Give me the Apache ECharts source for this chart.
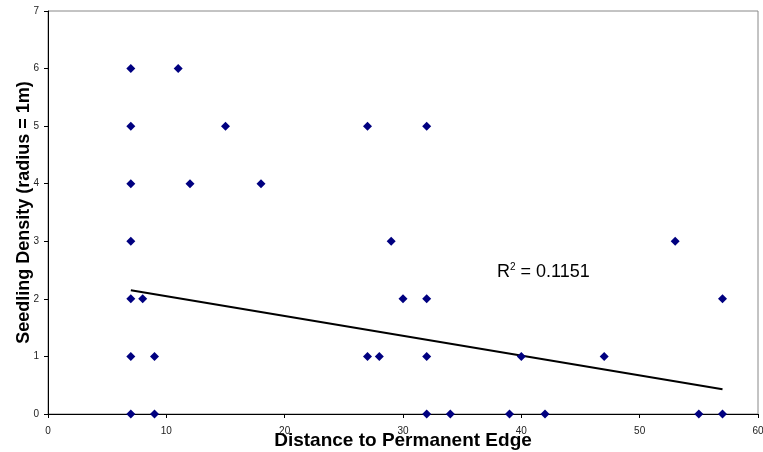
<!DOCTYPE html>
<html>
<head>
<meta charset="utf-8">
<script src="https://cdn.jsdelivr.net/npm/echarts@6/dist/echarts.min.js"></script>
<style>
  html, body { margin: 0; padding: 0; background: #fff; }
  #chart { width: 763px; height: 452px; }
</style>
</head>
<body>
<div id="chart"></div>
<script>
// observed points (distance, density)
var distance = [7, 7, 7, 7, 7, 7, 7, 11, 15, 12, 18, 27, 32, 29, 53, 8, 30, 32, 57, 9, 27, 28, 32, 40, 47, 9, 32, 34, 39, 42, 55, 57];
var density  = [6, 5, 4, 3, 2, 1, 0, 6, 5, 4, 4, 5, 5, 3, 3, 2, 2, 2, 2, 1, 1, 1, 1, 1, 1, 0, 0, 0, 0, 0, 0, 0];
// linear trend line
var trendX = [7, 57];
var trendY = [2.15, 0.43];
var rSquared = "0.1151";

(function () {
  var myechart = echarts.init(document.getElementById("chart"));
  var font = "Liberation Sans, Arial, sans-serif";

  var points = distance.map(function (d, i) { return [d, density[i]]; });
  var trend = trendX.map(function (d, i) { return [d, trendY[i]]; });

  option = {
    animation: false,
    textStyle: { fontFamily: font },
    grid: {
      left: 48,
      right: 5,
      top: 11,
      bottom: 38,
      containLabel: false,
      outerBoundsMode: "none",
      show: true,
      borderColor: "#888888",
      borderWidth: 1,
    },
    xAxis: {
      type: "value",
      min: 0,
      max: 60,
      interval: 10,
      name: "Distance to Permanent Edge",
      nameLocation: "middle",
      nameGap: 17,
      nameMoveOverlap: false,
      nameTextStyle: { fontSize: 19, fontWeight: "bold", color: "#000", fontFamily: font },
      axisLine: { show: true, onZero: false, lineStyle: { color: "#000", width: 1 } },
      axisTick: { show: true, length: 4, lineStyle: { color: "#000" } },
      axisLabel: { fontSize: 10, color: "#222", margin: 12, fontFamily: font },
      splitLine: { show: false },
    },
    yAxis: {
      type: "value",
      min: 0,
      max: 7,
      interval: 1,
      name: "Seedling Density (radius = 1m)",
      nameLocation: "middle",
      nameGap: 15,
      nameMoveOverlap: false,
      nameTextStyle: { fontSize: 18, fontWeight: "bold", color: "#000", fontFamily: font },
      axisLine: { show: true, onZero: false, lineStyle: { color: "#000", width: 1 } },
      axisTick: { show: true, length: 4, lineStyle: { color: "#000" } },
      axisLabel: { fontSize: 10, color: "#222", margin: 9, fontFamily: font },
      splitLine: { show: false },
    },
    graphic: [
      {
        type: "text",
        left: 497,
        top: 262,
        style: {
          text: "{r|R}{s|2}{r| = " + rSquared + "}",
          rich: {
            r: { fontSize: 18, fill: "#000", fontFamily: font, verticalAlign: "bottom" },
            s: { fontSize: 10, fill: "#000", fontFamily: font, verticalAlign: "top", padding: [0, 0, 9, 0] },
          },
        },
      },
    ],
    series: [
      {
        name: "trend",
        type: "line",
        data: trend,
        symbol: "none",
        lineStyle: { color: "#000", width: 2 },
        z: 2,
      },
      {
        name: "density",
        type: "scatter",
        data: points,
        symbol: "diamond",
        symbolSize: 9,
        itemStyle: { color: "#000080", opacity: 1 },
        z: 3,
      },
    ],
  };

  myechart.setOption(option);
})();
</script>
</body>
</html>
